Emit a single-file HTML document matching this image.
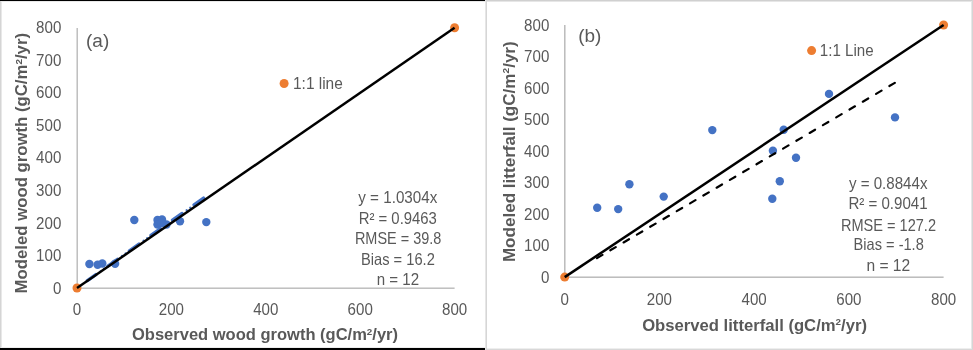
<!DOCTYPE html>
<html><head><meta charset="utf-8"><style>html,body{margin:0;padding:0;background:#fff;width:973px;height:350px;overflow:hidden}text{font-family:"Liberation Sans",sans-serif}</style></head>
<body><svg width="973" height="350" viewBox="0 0 973 350" style="display:block;will-change:transform" font-family="Liberation Sans, sans-serif"><rect width="973" height="350" fill="#fff"/><rect x="0" y="0" width="485" height="1" fill="#000"/>
<rect x="0" y="1" width="485" height="1" fill="#e9e9e9"/>
<rect x="0" y="348" width="485" height="2" fill="#000"/>
<rect x="0" y="347" width="485" height="1" fill="#eeeeee"/>
<rect x="0" y="1" width="1" height="347" fill="#d5d5d5"/>
<rect x="1" y="2" width="1" height="345" fill="#e8e8e8"/>
<rect x="485" y="0" width="1" height="350" fill="#e6e6e6"/>
<rect x="486" y="0" width="1" height="350" fill="#d6d6d6"/>
<rect x="487" y="0" width="486" height="1" fill="#d0d0d0"/>
<rect x="487" y="1" width="486" height="1" fill="#e6e6e6"/>
<rect x="972" y="0" width="1" height="350" fill="#d5d5d5"/>
<rect x="971" y="1" width="1" height="349" fill="#e8e8e8"/>
<rect x="487" y="349" width="486" height="1" fill="#d8d8d8"/>
<rect x="487" y="348" width="484" height="1" fill="#eeeeee"/>
<rect x="77" y="28" width="1" height="261" fill="#c0c0c0"/>
<rect x="76" y="28" width="1" height="261" fill="#dcdcdc"/>
<rect x="77" y="288" width="377.6" height="1" fill="#c0c0c0"/>
<rect x="77" y="287" width="377.6" height="1" fill="#dcdcdc"/>
<text x="61.3" y="293.60" font-size="16" text-anchor="end" fill="#595959" textLength="8.40" lengthAdjust="spacingAndGlyphs">0</text>
<text x="61.3" y="261.06" font-size="16" text-anchor="end" fill="#595959" textLength="25.20" lengthAdjust="spacingAndGlyphs">100</text>
<text x="61.3" y="228.53" font-size="16" text-anchor="end" fill="#595959" textLength="25.20" lengthAdjust="spacingAndGlyphs">200</text>
<text x="61.3" y="195.99" font-size="16" text-anchor="end" fill="#595959" textLength="25.20" lengthAdjust="spacingAndGlyphs">300</text>
<text x="61.3" y="163.45" font-size="16" text-anchor="end" fill="#595959" textLength="25.20" lengthAdjust="spacingAndGlyphs">400</text>
<text x="61.3" y="130.91" font-size="16" text-anchor="end" fill="#595959" textLength="25.20" lengthAdjust="spacingAndGlyphs">500</text>
<text x="61.3" y="98.37" font-size="16" text-anchor="end" fill="#595959" textLength="25.20" lengthAdjust="spacingAndGlyphs">600</text>
<text x="61.3" y="65.84" font-size="16" text-anchor="end" fill="#595959" textLength="25.20" lengthAdjust="spacingAndGlyphs">700</text>
<text x="61.3" y="33.30" font-size="16" text-anchor="end" fill="#595959" textLength="25.20" lengthAdjust="spacingAndGlyphs">800</text>
<text x="77.00" y="315.20" font-size="16" text-anchor="middle" fill="#595959" textLength="8.40" lengthAdjust="spacingAndGlyphs">0</text>
<text x="171.40" y="315.20" font-size="16" text-anchor="middle" fill="#595959" textLength="25.20" lengthAdjust="spacingAndGlyphs">200</text>
<text x="265.80" y="315.20" font-size="16" text-anchor="middle" fill="#595959" textLength="25.20" lengthAdjust="spacingAndGlyphs">400</text>
<text x="360.20" y="315.20" font-size="16" text-anchor="middle" fill="#595959" textLength="25.20" lengthAdjust="spacingAndGlyphs">600</text>
<text x="454.60" y="315.20" font-size="16" text-anchor="middle" fill="#595959" textLength="25.20" lengthAdjust="spacingAndGlyphs">800</text>
<text x="265.00" y="340.00" font-size="16" text-anchor="middle" font-weight="bold" textLength="266.00" lengthAdjust="spacingAndGlyphs" fill="#595959">Observed wood growth (gC/m<tspan font-size="9.5" dy="-5.5">2</tspan><tspan dy="5.5">/yr)</tspan></text>
<text transform="translate(27.00,163.20) rotate(-90)" font-size="16" text-anchor="middle" font-weight="bold" textLength="260.40" lengthAdjust="spacingAndGlyphs" fill="#595959">Modeled wood growth (gC/m<tspan font-size="9.5" dy="-5.5">2</tspan><tspan dy="5.5">/yr)</tspan></text>
<text x="97.65" y="46.60" font-size="19.2" text-anchor="middle" textLength="23.20" lengthAdjust="spacingAndGlyphs" fill="#595959">(a)</text>
<circle cx="284.1" cy="83.5" r="4.5" fill="#ED7D31"/>
<text x="317.90" y="88.60" font-size="16" text-anchor="middle" textLength="49.80" lengthAdjust="spacingAndGlyphs" fill="#595959">1:1 line</text>
<text x="397.80" y="203.20" font-size="16.5" text-anchor="middle" textLength="79.00" lengthAdjust="spacingAndGlyphs" fill="#595959">y = 1.0304x</text>
<text x="397.80" y="223.60" font-size="16.5" text-anchor="middle" textLength="78.20" lengthAdjust="spacingAndGlyphs" fill="#595959">R² = 0.9463</text>
<text x="398.10" y="244.00" font-size="16.5" text-anchor="middle" textLength="86.40" lengthAdjust="spacingAndGlyphs" fill="#595959">RMSE = 39.8</text>
<text x="397.90" y="264.50" font-size="16.5" text-anchor="middle" textLength="73.80" lengthAdjust="spacingAndGlyphs" fill="#595959">Bias = 16.2</text>
<text x="397.90" y="285.30" font-size="16.5" text-anchor="middle" textLength="42.40" lengthAdjust="spacingAndGlyphs" fill="#595959">n = 12</text>
<circle cx="89.4" cy="264" r="4.2" fill="#4472C4"/>
<circle cx="97.6" cy="264.7" r="4.2" fill="#4472C4"/>
<circle cx="102.3" cy="263.5" r="4.2" fill="#4472C4"/>
<circle cx="115.1" cy="263.7" r="4.2" fill="#4472C4"/>
<circle cx="134.3" cy="220" r="4.2" fill="#4472C4"/>
<circle cx="157.5" cy="220" r="4.2" fill="#4472C4"/>
<circle cx="162" cy="219.5" r="4.2" fill="#4472C4"/>
<circle cx="157.5" cy="224.5" r="4.2" fill="#4472C4"/>
<circle cx="166.5" cy="224.5" r="4.2" fill="#4472C4"/>
<circle cx="161.5" cy="223" r="4.2" fill="#4472C4"/>
<circle cx="180" cy="221.3" r="4.2" fill="#4472C4"/>
<circle cx="206.3" cy="222.1" r="4.2" fill="#4472C4"/>
<line x1="204.91" y1="197.14" x2="87.38" y2="280.62" stroke="#4472C4" stroke-width="3.3" stroke-dasharray="11.7 14.72" stroke-dashoffset="24.77" stroke-linecap="round"/>
<line x1="204.91" y1="197.14" x2="87.38" y2="280.62" stroke="#4472C4" stroke-width="2.2" stroke-dasharray="0.01 4.39 0.01 22.01" stroke-dashoffset="8.42" stroke-linecap="round"/>
<circle cx="77" cy="288" r="4.5" fill="#ED7D31"/>
<circle cx="454.6" cy="27.7" r="4.5" fill="#ED7D31"/>
<line x1="77" y1="288" x2="454.6" y2="27.7" stroke="#000" stroke-width="2.5"/>
<rect x="564" y="25" width="1" height="253" fill="#bdbdbd"/>
<rect x="565" y="25" width="1" height="253" fill="#dadada"/>
<rect x="564" y="277" width="379.6" height="1" fill="#bdbdbd"/>
<rect x="564" y="276" width="379.6" height="1" fill="#dadada"/>
<text x="549.3" y="282.70" font-size="16" text-anchor="end" fill="#595959" textLength="8.40" lengthAdjust="spacingAndGlyphs">0</text>
<text x="549.3" y="251.19" font-size="16" text-anchor="end" fill="#595959" textLength="25.20" lengthAdjust="spacingAndGlyphs">100</text>
<text x="549.3" y="219.68" font-size="16" text-anchor="end" fill="#595959" textLength="25.20" lengthAdjust="spacingAndGlyphs">200</text>
<text x="549.3" y="188.16" font-size="16" text-anchor="end" fill="#595959" textLength="25.20" lengthAdjust="spacingAndGlyphs">300</text>
<text x="549.3" y="156.65" font-size="16" text-anchor="end" fill="#595959" textLength="25.20" lengthAdjust="spacingAndGlyphs">400</text>
<text x="549.3" y="125.14" font-size="16" text-anchor="end" fill="#595959" textLength="25.20" lengthAdjust="spacingAndGlyphs">500</text>
<text x="549.3" y="93.62" font-size="16" text-anchor="end" fill="#595959" textLength="25.20" lengthAdjust="spacingAndGlyphs">600</text>
<text x="549.3" y="62.11" font-size="16" text-anchor="end" fill="#595959" textLength="25.20" lengthAdjust="spacingAndGlyphs">700</text>
<text x="549.3" y="30.60" font-size="16" text-anchor="end" fill="#595959" textLength="25.20" lengthAdjust="spacingAndGlyphs">800</text>
<text x="564.70" y="304.60" font-size="16" text-anchor="middle" fill="#595959" textLength="8.40" lengthAdjust="spacingAndGlyphs">0</text>
<text x="659.43" y="304.60" font-size="16" text-anchor="middle" fill="#595959" textLength="25.20" lengthAdjust="spacingAndGlyphs">200</text>
<text x="754.15" y="304.60" font-size="16" text-anchor="middle" fill="#595959" textLength="25.20" lengthAdjust="spacingAndGlyphs">400</text>
<text x="848.88" y="304.60" font-size="16" text-anchor="middle" fill="#595959" textLength="25.20" lengthAdjust="spacingAndGlyphs">600</text>
<text x="943.60" y="304.60" font-size="16" text-anchor="middle" fill="#595959" textLength="25.20" lengthAdjust="spacingAndGlyphs">800</text>
<text x="754.60" y="330.80" font-size="16" text-anchor="middle" font-weight="bold" textLength="224.90" lengthAdjust="spacingAndGlyphs" fill="#595959">Observed litterfall (gC/m<tspan font-size="9.5" dy="-5.5">2</tspan><tspan dy="5.5">/yr)</tspan></text>
<text transform="translate(514.50,151.70) rotate(-90)" font-size="16" text-anchor="middle" font-weight="bold" textLength="220.80" lengthAdjust="spacingAndGlyphs" fill="#595959">Modeled litterfall (gC/m<tspan font-size="9.5" dy="-5.5">2</tspan><tspan dy="5.5">/yr)</tspan></text>
<text x="589.80" y="41.60" font-size="19.2" text-anchor="middle" textLength="23.20" lengthAdjust="spacingAndGlyphs" fill="#595959">(b)</text>
<circle cx="811.6" cy="50.6" r="4.5" fill="#ED7D31"/>
<text x="846.70" y="55.60" font-size="16" text-anchor="middle" textLength="53.80" lengthAdjust="spacingAndGlyphs" fill="#595959">1:1 Line</text>
<text x="888.20" y="189.10" font-size="16.5" text-anchor="middle" textLength="78.60" lengthAdjust="spacingAndGlyphs" fill="#595959">y = 0.8844x</text>
<text x="888.00" y="209.40" font-size="16.5" text-anchor="middle" textLength="79.20" lengthAdjust="spacingAndGlyphs" fill="#595959">R² = 0.9041</text>
<text x="888.50" y="230.50" font-size="16.5" text-anchor="middle" textLength="95.00" lengthAdjust="spacingAndGlyphs" fill="#595959">RMSE = 127.2</text>
<text x="888.70" y="250.30" font-size="16.5" text-anchor="middle" textLength="70.20" lengthAdjust="spacingAndGlyphs" fill="#595959">Bias = -1.8</text>
<text x="888.30" y="271.20" font-size="16.5" text-anchor="middle" textLength="43.80" lengthAdjust="spacingAndGlyphs" fill="#595959">n = 12</text>
<circle cx="597.2" cy="207.7" r="4.2" fill="#4472C4"/>
<circle cx="618.2" cy="209.1" r="4.2" fill="#4472C4"/>
<circle cx="629.4" cy="184.2" r="4.2" fill="#4472C4"/>
<circle cx="663.7" cy="196.6" r="4.2" fill="#4472C4"/>
<circle cx="712.3" cy="130.1" r="4.2" fill="#4472C4"/>
<circle cx="772.9" cy="150.8" r="4.2" fill="#4472C4"/>
<circle cx="783.7" cy="129.8" r="4.2" fill="#4472C4"/>
<circle cx="796" cy="157.8" r="4.2" fill="#4472C4"/>
<circle cx="779.8" cy="181.2" r="4.2" fill="#4472C4"/>
<circle cx="772.3" cy="198.7" r="4.2" fill="#4472C4"/>
<circle cx="829" cy="93.9" r="4.2" fill="#4472C4"/>
<circle cx="895" cy="117.4" r="4.2" fill="#4472C4"/>
<line x1="895.76" y1="82.29" x2="596.91" y2="258.15" stroke="#000" stroke-width="2.2" stroke-dasharray="6.3 9.12" stroke-dashoffset="14.32" stroke-linecap="round"/>
<circle cx="564.7" cy="277.1" r="4.5" fill="#ED7D31"/>
<circle cx="943.6" cy="25" r="4.5" fill="#ED7D31"/>
<line x1="564.7" y1="277.1" x2="943.6" y2="25" stroke="#000" stroke-width="2.5"/></svg></body></html>
